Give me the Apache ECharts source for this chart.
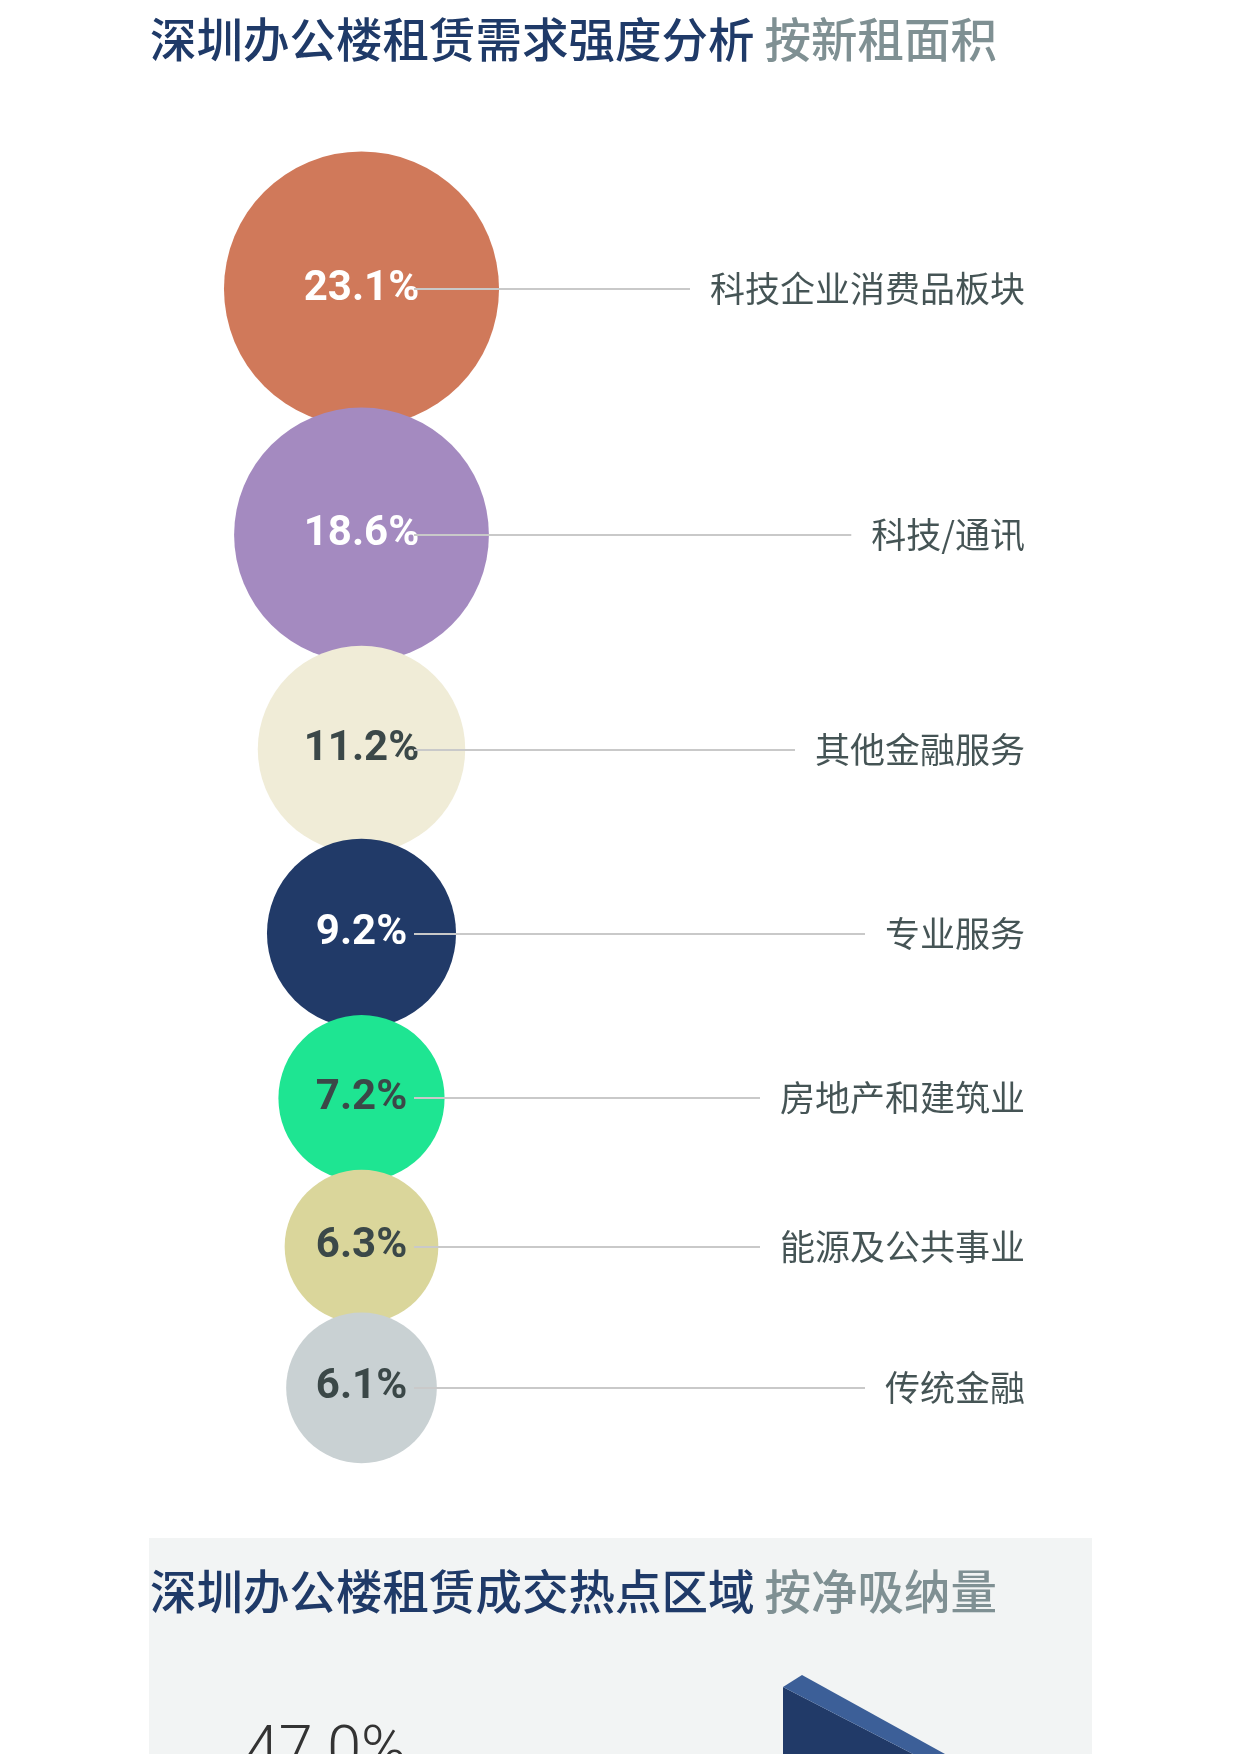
<!DOCTYPE html>
<html>
<head>
<meta charset="utf-8">
<script src="https://cdn.jsdelivr.net/npm/echarts@6/dist/echarts.min.js"></script>
<style>
html,body{margin:0;padding:0;background:#ffffff;}
#chart{width:1240px;height:1754px;}
</style>
</head>
<body>
<div id="chart"></div>
<script>
// ---- data ----
const categories = ['科技企业消费品板块', '科技/通讯', '其他金融服务', '专业服务', '房地产和建筑业', '能源及公共事业', '传统金融'];
const shares = [23.1, 18.6, 11.2, 9.2, 7.2, 6.3, 6.1];
const titleMain = '深圳办公楼租赁需求强度分析';
const titleSub = '按新租面积';
const title2Main = '深圳办公楼租赁成交热点区域';
const title2Sub = '按净吸纳量';
const nextChartFirstValue = '47.0%';

// ---- styles ----
const bubbleColors = ['#d0795a', '#a48ac0', '#f0ecd7', '#213a68', '#1ee592', '#dad69b', '#c9d1d3'];
const valueTextColors = ['#ffffff', '#ffffff', '#3b4848', '#ffffff', '#3b4848', '#3b4848', '#3b4848'];
const CJK = '"Noto Sans CJK SC", "Noto Sans", sans-serif';
const NUM = 'Roboto, "Noto Sans", sans-serif';
const catFontSize = 35;

// layout helpers (derived from values)
const bubbleX = 361.5;
const firstCenterY = 289;
const overlapFactor = 0.928;
const leaderStartX = 414;
const labelRightX = 1025;
const labelGap = 20;

function radiusOf(v) { return 46.7 * Math.log(v) - 9.1; }

const centersY = [];
shares.forEach(function (v, i) {
  if (i === 0) { centersY.push(firstCenterY); }
  else {
    centersY.push(centersY[i - 1] + (radiusOf(shares[i - 1]) + radiusOf(v)) * overlapFactor);
  }
});

const ctx = document.createElement('canvas').getContext('2d');
ctx.font = catFontSize + 'px ' + CJK;
function textW(t) { return ctx.measureText(t).width; }

const chart = echarts.init(document.getElementById('chart'), null, {renderer: 'canvas'});

const bubbleData = shares.map(function (v, i) {
  return {
    value: [bubbleX, centersY[i], v],
    itemStyle: {color: bubbleColors[i]},
    label: {color: valueTextColors[i]}
  };
});

const leaderData = shares.map(function (v, i) {
  return {coords: [[leaderStartX, centersY[i]], [labelRightX - textW(categories[i]) - labelGap, centersY[i]]]};
});

const nameData = categories.map(function (c, i) {
  return {name: c, value: [labelRightX, centersY[i]]};
});

const titleRich = {
  a: {fontSize: 46.5, fontWeight: 500, color: '#1f3a68', fontFamily: CJK, lineHeight: 46},
  b: {fontSize: 46.5, fontWeight: 500, color: '#7f9093', fontFamily: CJK, lineHeight: 46, padding: [0, 0, 0, 5]}
};

const option = {
  animation: false,
  backgroundColor: '#ffffff',
  title: [
    {
      text: '{a|' + titleMain + '} {b|' + titleSub + '}',
      left: 150, top: 16, padding: 0,
      textStyle: {rich: titleRich}
    },
    {
      text: '{a|' + title2Main + '} {b|' + title2Sub + '}',
      left: 150, top: 1568, padding: 0, z: 10,
      textStyle: {rich: titleRich}
    }
  ],
  graphic: [
    {type: 'rect', z: -10, shape: {x: 149, y: 1538, width: 943, height: 230}, style: {fill: '#f2f4f4'}},
    {type: 'text', z: 5, style: {x: 245, y: 1754, text: nextChartFirstValue, fontSize: 61, fontWeight: 300, fontFamily: NUM, fill: '#333333', verticalAlign: 'middle', align: 'left'}},
    {type: 'polygon', z: 5, shape: {points: [[783, 1687], [913, 1754], [783, 1754]]}, style: {fill: '#213a68'}},
    {type: 'polygon', z: 5, shape: {points: [[783, 1687], [802, 1675], [945, 1754], [913, 1754]]}, style: {fill: '#3c5f98'}}
  ],
  grid: {left: 0, right: 0, top: 0, bottom: 0},
  xAxis: {type: 'value', min: 0, max: 1240, show: false},
  yAxis: {type: 'value', min: 0, max: 1754, inverse: true, show: false},
  series: [
    {
      type: 'scatter',
      z: 2,
      data: bubbleData,
      symbol: 'circle',
      symbolSize: function (val) { return 2 * radiusOf(val[2]); },
      itemStyle: {opacity: 1},
      label: {
        show: true, position: 'inside',
        fontFamily: NUM, fontWeight: 'bold', fontSize: 42,
        formatter: function (p) { return p.value[2].toFixed(1) + '%'; }
      },
      emphasis: {disabled: true}
    },
    {
      type: 'lines',
      coordinateSystem: 'cartesian2d',
      z: 3,
      data: leaderData,
      lineStyle: {color: '#c9c9c9', width: 2, opacity: 1},
      symbol: ['none', 'none'],
      effect: {show: false},
      silent: true
    },
    {
      type: 'scatter',
      z: 4,
      data: nameData,
      symbolSize: 0,
      label: {
        show: true, position: 'left', distance: 0,
        fontFamily: CJK, fontSize: catFontSize, color: '#17292a',
        formatter: function (p) { return p.name; }
      },
      silent: true
    }
  ]
};
chart.setOption(option);
</script>
</body>
</html>
